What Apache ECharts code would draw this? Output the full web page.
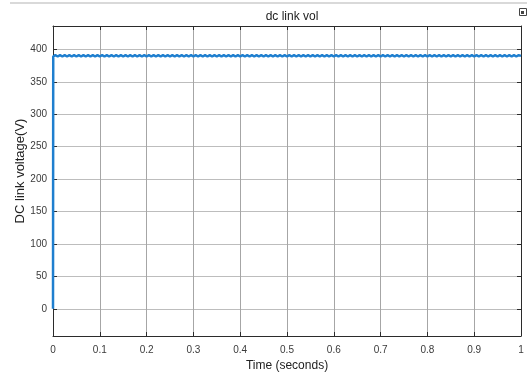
<!DOCTYPE html>
<html>
<head>
<meta charset="utf-8">
<script src="https://cdn.jsdelivr.net/npm/echarts@6/dist/echarts.min.js"></script>
<style>
  html, body { margin: 0; padding: 0; background: #ffffff; }
  #chart { width: 527px; height: 378px; }
</style>
</head>
<body>
<div id="chart"></div>
<script>
// DC link voltage trace: t = 0 starts at 0 V, then the link sits near 390 V with a small ripple.
const timeStart = [0, 0.0005];
const voltageStart = [0, 389];
// Ripple samples every 5 ms from 0.005 s to 1.0 s
const rippleVoltage = [
  391, 389, 391, 389, 391, 389, 391, 389, 391, 389, 391, 389, 391, 389, 391, 389, 391, 389, 391, 389,
  391, 389, 391, 389, 391, 389, 391, 389, 391, 389, 391, 389, 391, 389, 391, 389, 391, 389, 391, 389,
  391, 389, 391, 389, 391, 389, 391, 389, 391, 389, 391, 389, 391, 389, 391, 389, 391, 389, 391, 389,
  391, 389, 391, 389, 391, 389, 391, 389, 391, 389, 391, 389, 391, 389, 391, 389, 391, 389, 391, 389,
  391, 389, 391, 389, 391, 389, 391, 389, 391, 389, 391, 389, 391, 389, 391, 389, 391, 389, 391, 389,
  391, 389, 391, 389, 391, 389, 391, 389, 391, 389, 391, 389, 391, 389, 391, 389, 391, 389, 391, 389,
  391, 389, 391, 389, 391, 389, 391, 389, 391, 389, 391, 389, 391, 389, 391, 389, 391, 389, 391, 389,
  391, 389, 391, 389, 391, 389, 391, 389, 391, 389, 391, 389, 391, 389, 391, 389, 391, 389, 391, 389,
  391, 389, 391, 389, 391, 389, 391, 389, 391, 389, 391, 389, 391, 389, 391, 389, 391, 389, 391, 389,
  391, 389, 391, 389, 391, 389, 391, 389, 391, 389, 391, 389, 391, 389, 391, 389, 391, 389, 391, 390
];
const rippleStep = 0.005;
const xTicks = [0, 0.1, 0.2, 0.3, 0.4, 0.5, 0.6, 0.7, 0.8, 0.9, 1];
const yTicks = [0, 50, 100, 150, 200, 250, 300, 350, 400];

const titleText = 'dc link vol';
const xName = 'Time (seconds)';
const yName = 'DC link voltage(V)';

// assemble [t, v] pairs
const points = timeStart.map((t, i) => [t, voltageStart[i]]);
rippleVoltage.forEach((v, i) => {
  points.push([Number(((i + 1) * rippleStep).toFixed(3)), v]);
});

const font = 'Liberation Sans, Arial, Helvetica, sans-serif';
const frameColor = '#2b2b2b';
const labelColor = '#3a3a3a';

const chart = echarts.init(document.getElementById('chart'), null, { renderer: 'canvas' });

const yMin = -42, yMax = 436;

chart.setOption({
  animation: false,
  backgroundColor: '#ffffff',
  title: {
    text: titleText,
    left: 287, top: 6, textAlign: 'center',
    textStyle: { fontFamily: font, fontSize: 12, fontWeight: 'normal', color: '#222222' }
  },
  grid: { left: 53, right: 6, top: 26, bottom: 42, containLabel: false },
  xAxis: [{
    type: 'value', min: 0, max: 1, interval: 0.1, position: 'bottom',
    name: xName, nameLocation: 'middle', nameGap: 23,
    nameTextStyle: { fontFamily: font, fontSize: 12, color: '#222222' },
    axisLine: { show: true, onZero: false, lineStyle: { color: frameColor, width: 1 } },
    axisTick: { show: true, inside: true, length: 4, lineStyle: { color: frameColor } },
    axisLabel: {
      margin: 9, fontFamily: font, fontSize: 10, color: labelColor,
      customValues: xTicks,
      formatter: v => (Math.round(v * 10) / 10).toString()
    },
    splitLine: { show: true, lineStyle: { color: '#a6a6a6', width: 1 } }
  }, {
    type: 'value', min: 0, max: 1, interval: 0.1, position: 'top',
    axisLine: { show: true, onZero: false, lineStyle: { color: frameColor, width: 1 } },
    axisTick: { show: true, inside: true, length: 4, lineStyle: { color: frameColor } },
    axisLabel: { show: false },
    splitLine: { show: false }
  }],
  yAxis: [{
    type: 'value', min: yMin, max: yMax, splitNumber: 10, position: 'left',
    axisLine: { show: true, onZero: false, lineStyle: { color: frameColor, width: 1 } },
    axisTick: { show: true, inside: true, length: 4, lineStyle: { color: frameColor }, customValues: yTicks },
    axisLabel: {
      margin: 6, fontFamily: font, fontSize: 10, color: labelColor,
      customValues: yTicks
    },
    splitLine: { show: true, lineStyle: { color: '#bdbdbd', width: 1 } }
  }, {
    type: 'value', min: yMin, max: yMax, splitNumber: 10, position: 'right',
    axisLine: { show: true, onZero: false, lineStyle: { color: frameColor, width: 1 } },
    axisTick: { show: true, inside: true, length: 4, lineStyle: { color: frameColor }, customValues: yTicks },
    axisLabel: { show: false },
    splitLine: { show: false }
  }],
  series: [{
    type: 'line',
    xAxisIndex: 0, yAxisIndex: 0,
    data: points,
    showSymbol: false,
    lineStyle: { color: '#1f7fcf', width: 2.5 },
    clip: true,
    z: 5
  }],
  graphic: [
    // y-axis title, placed a little above the plot's mid-height
    {
      type: 'text', x: 20, y: 171, rotation: Math.PI / 2, silent: true,
      style: {
        text: yName, fontFamily: font, fontSize: 13, fill: '#222222',
        align: 'center', verticalAlign: 'middle'
      }
    },
    { type: 'rect', shape: { x: 10, y: 2, width: 517, height: 2 }, style: { fill: '#d9d9d9' }, silent: true },
    { type: 'rect', shape: { x: 519.5, y: 8.5, width: 7, height: 7 }, style: { fill: 'none', stroke: '#444444', lineWidth: 1 }, silent: true },
    { type: 'rect', shape: { x: 521, y: 11, width: 3, height: 3 }, style: { fill: '#444444' }, silent: true }
  ]
});
</script>
</body>
</html>
